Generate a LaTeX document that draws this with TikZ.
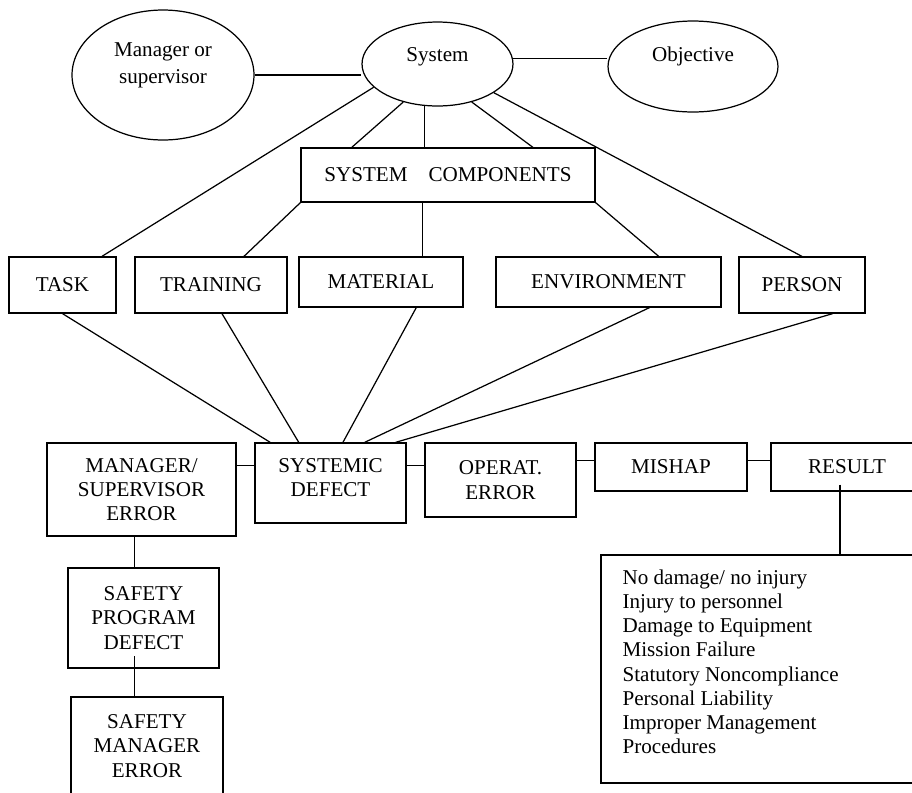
\documentclass[tikz,border=0pt]{standalone}
\usepackage{fontspec}
\setmainfont{Liberation Serif}
\usetikzlibrary{shapes.geometric}
\tikzset{ell/.style = {draw, ellipse, inner sep = 0}}
\tikzset{box/.style = {draw, rectangle, align = center, inner sep = 0}}

\begin{document}
\begin{tikzpicture}[x = 0.02cm, y = -0.02cm, line width = 0.7pt,
                    font = \fontsize{12}{13.8}\selectfont]
    \clip (0, 0) rectangle (912, 792);

    \node [ell, minimum width = 3.64cm, minimum height = 2.6cm,
           label = {[align = center, font = \fontsize{12}{15.4}\selectfont, yshift = 5.5pt]center:Manager or\\supervisor}] (mgr) at (163, 75) {};
    \node [ell, minimum width = 3.02cm, minimum height = 1.68cm,
           label = {[yshift = 4pt]center:System}] (sys) at (437.5, 64) {};
    \node [ell, minimum width = 3.4cm, minimum height = 1.82cm,
           label = {[yshift = 6pt]center:Objective}] (obj) at (693, 66.5) {};

    \node [box, minimum width = 5.88cm, minimum height = 1.08cm] (comp) at (448, 175) {SYSTEM\quad COMPONENTS};

    \node [box, minimum width = 2.14cm, minimum height = 1.12cm] (task) at (62.5, 285) {TASK};
    \node [box, minimum width = 3.04cm, minimum height = 1.12cm] (train) at (211, 285) {TRAINING};
    \node [box, minimum width = 3.28cm, minimum height = 1cm] (mat) at (381, 282) {MATERIAL};
    \node [box, minimum width = 4.5cm, minimum height = 1cm] (env) at (608.5, 282) {ENVIRONMENT};
    \node [box, minimum width = 2.52cm, minimum height = 1.12cm] (pers) at (802, 285) {PERSON};

    \node [box, minimum width = 3.78cm, minimum height = 1.86cm] (mse) at (141.5, 489.5) {MANAGER/\\SUPERVISOR\\ERROR};
    \node [box, minimum width = 3.02cm, minimum height = 1.6cm, text depth = 6pt] (sd) at (330.5, 483) {SYSTEMIC\\DEFECT};
    \node [box, minimum width = 3.02cm, minimum height = 1.48cm] (oe) at (500.5, 480) {OPERAT.\\ERROR};
    \node [box, minimum width = 3.04cm, minimum height = 0.96cm] (mishap) at (671, 467) {MISHAP};
    \node [box, minimum width = 3.04cm, minimum height = 0.96cm] (result) at (847, 467) {RESULT};

    \node [box, minimum width = 3.02cm, minimum height = 2cm] (spd) at (143.5, 618) {SAFETY\\PROGRAM\\DEFECT};
    \node [box, minimum width = 3.04cm, minimum height = 1.96cm] (sme) at (147, 746) {SAFETY\\MANAGER\\ERROR};

    \node [box, minimum width = 6.58cm, minimum height = 4.56cm] (outcome) at (765.5, 669) {};
    \node [align = left, anchor = north west, inner sep = 0] (outtext) at (622, 569)
        {No damage/ no injury\\Injury to personnel\\Damage to Equipment\\Mission Failure\\
         Statutory Noncompliance\\Personal Liability\\Improper Management\\Procedures};

    \draw (mgr.east) -- (mgr.east -| sys.west);
    \draw (sys.4) -- (sys.4 -| obj.west);
    \draw (sys.200) -- (task.36);
    \draw (sys.228) -- (comp.164);
    \draw (sys.253) -- (sys.253 |- comp.north);
    \draw (sys.312) -- (comp.18);
    \draw (sys.333) -- (pers.north);

    \draw (comp.south west) -- (train.41);
    \draw (comp.227) -- (comp.227 |- mat.north);
    \draw (comp.south east) -- (env.27);

    \draw (task.south) -- (sd.146);
    \draw (train.291) -- (sd.128);
    \draw (mat.324) -- (sd.73);
    \draw (env.328) -- (sd.50);
    \draw (pers.317) -- (sd.32);

    \draw (sd.167) -- (sd.167 -| mse.east);
    \draw (sd.13) -- (sd.13 -| oe.west);
    \draw (mishap.175) -- (mishap.175 -| oe.east);
    \draw (result.175) -- (result.175 -| mishap.east);
    \draw ([xshift = -4pt, yshift = 4pt]result.south) -- ([xshift = -4pt]result.south |- outcome.north);

    \draw ([xshift = -4pt]mse.south) -- ([xshift = -4pt]mse.south |- spd.north);
    \draw ([xshift = -5pt, yshift = 7pt]spd.south) -- ([xshift = -5pt]spd.south |- sme.north);
\end{tikzpicture}
\end{document}
